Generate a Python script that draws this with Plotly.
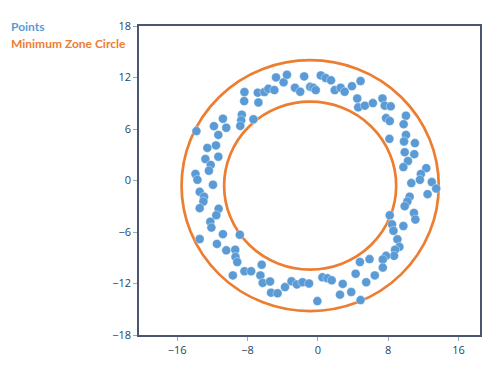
import plotly.graph_objects as go

# Measured points
points_x = [-13.80, -11.81, -10.79, -10.41, -11.31, -12.56, -11.58, -12.78, -12.18, -12.38,
            -11.31, -13.91, -13.69, -11.92, -8.34, -8.37, -6.83, -6.75, -6.07, -5.62,
            -4.94, -4.75, -3.89, -3.51, -1.55, -2.60, -2.00, -0.87, -8.64, -8.71,
            -8.82, -7.32, -0.53, -0.23, 0.34, 0.90, 1.50, 1.92, 2.60, 3.05,
            3.88, 4.86, 4.48, 4.59, 5.35, 6.26, 7.35, 7.61, 8.29, 7.76,
            8.18, 10.02, 9.76, 10.02, 9.80, 11.04, 8.14, 9.88, 10.97, 10.25,
            9.73, 12.33, 11.72, 11.61, 12.96, 10.63, 13.46, 12.48, 10.44, 10.18,
            9.88, 10.93, 11.09, 8.18, 8.44, 8.60, 9.73, 9.05, 9.28, 8.78,
            8.67, 7.76, 7.39, 5.88, 4.79, 7.39, 4.30, 6.48, 5.50, 2.83,
            3.80, 2.52, 4.86, 0.52, 1.09, 1.58, -0.05, -13.43, -12.94, -13.01,
            -13.43, -11.28, -11.54, -12.22, -12.10, -13.43, -10.79, -8.87, -11.47, -10.41,
            -9.39, -9.36, -9.16, -6.38, -8.34, -7.58, -9.66, -6.53, -6.27, -5.43,
            -5.32, -4.57, -3.73, -2.99, -2.38, -1.74, -1.00]
points_y = [5.76, 6.33, 7.20, 6.14, 5.31, 3.80, 4.09, 2.50, 1.82, 1.14,
            2.77, 0.76, 0.08, -0.49, 10.31, 9.25, 10.23, 9.09, 10.31, 10.68,
            10.53, 12.01, 11.44, 12.32, 12.13, 10.80, 10.34, 10.91, 7.66, 7.01,
            6.36, 7.13, 10.80, 10.53, 12.24, 11.93, 11.67, 10.53, 10.80, 10.34,
            10.99, 11.59, 9.55, 8.52, 8.72, 9.02, 9.55, 8.72, 8.64, 7.27,
            6.93, 7.55, 6.56, 5.31, 4.55, 4.36, 4.85, 3.30, 3.07, 2.27,
            1.56, 1.44, 0.76, 0.08, -0.18, -0.30, -0.94, -1.59, -1.89, -2.45,
            -2.99, -3.78, -4.55, -4.05, -5.11, -5.86, -5.30, -6.85, -7.73, -8.07,
            -8.78, -8.78, -9.20, -9.16, -9.50, -10.15, -10.86, -11.06, -11.85, -12.05,
            -12.99, -13.30, -13.93, -11.28, -11.40, -11.63, -14.05, -1.32, -1.89, -2.45,
            -3.22, -3.30, -4.05, -4.81, -5.49, -6.82, -6.25, -6.32, -7.39, -8.14,
            -8.07, -8.90, -9.50, -9.81, -10.57, -10.57, -11.06, -11.06, -11.93, -11.77,
            -13.07, -13.14, -12.42, -11.74, -12.11, -11.85, -12.00]

# Minimum zone circle (concentric)
center_x = -0.87
center_y = -0.60
r_inner = 9.78
r_outer = 14.62

x_ticks = [-16, -8, 0, 8, 16]
y_ticks = [-18, -12, -6, 0, 6, 12, 18]

BLUE = "#5B9BD5"
ORANGE = "#ED7D31"

fig = go.Figure()
fig.add_trace(go.Scatter(
    x=points_x, y=points_y, mode="markers", name="Points",
    marker=dict(color=BLUE, size=9, line=dict(width=0.6, color="rgba(255,255,255,0.6)")),
    showlegend=False, hoverinfo="x+y"))

for r in [r_inner, r_outer]:
    fig.add_shape(type="circle", xref="x", yref="y",
                  x0=center_x - r, x1=center_x + r, y0=center_y - r, y1=center_y + r,
                  line=dict(color=ORANGE, width=2.7), layer="below")

fig.add_annotation(text="<b>Points</b>", xref="paper", yref="paper",
                   x=-0.382, y=1.0, xanchor="left", yanchor="middle", showarrow=False,
                   font=dict(family="Lato", size=12, color=BLUE))
fig.add_annotation(text="<b>Minimum Zone Circle</b>", xref="paper", yref="paper",
                   x=-0.382, y=0.944, xanchor="left", yanchor="middle", showarrow=False,
                   font=dict(family="Lato", size=12, color=ORANGE))

axis_common = dict(showgrid=False, zeroline=False, showline=True, mirror=True,
                   linecolor="#4a5670", linewidth=1.5, ticks="outside", ticklen=4,
                   tickcolor="#a0a8b8", tickwidth=1,
                   tickfont=dict(family="Open Sans", size=11, color="#2a3f5f"))

# page body has an 8px margin, so the figure is sized to fit inside it
fig.update_layout(
    width=484, height=363,
    margin=dict(l=131, r=10, t=10, b=36),
    plot_bgcolor="white", paper_bgcolor="white",
    xaxis=dict(range=[-20.33, 18.44], tickvals=x_ticks, **axis_common),
    yaxis=dict(range=[-18, 18], tickvals=y_ticks, **axis_common),
)

fig.write_html("out.html")
